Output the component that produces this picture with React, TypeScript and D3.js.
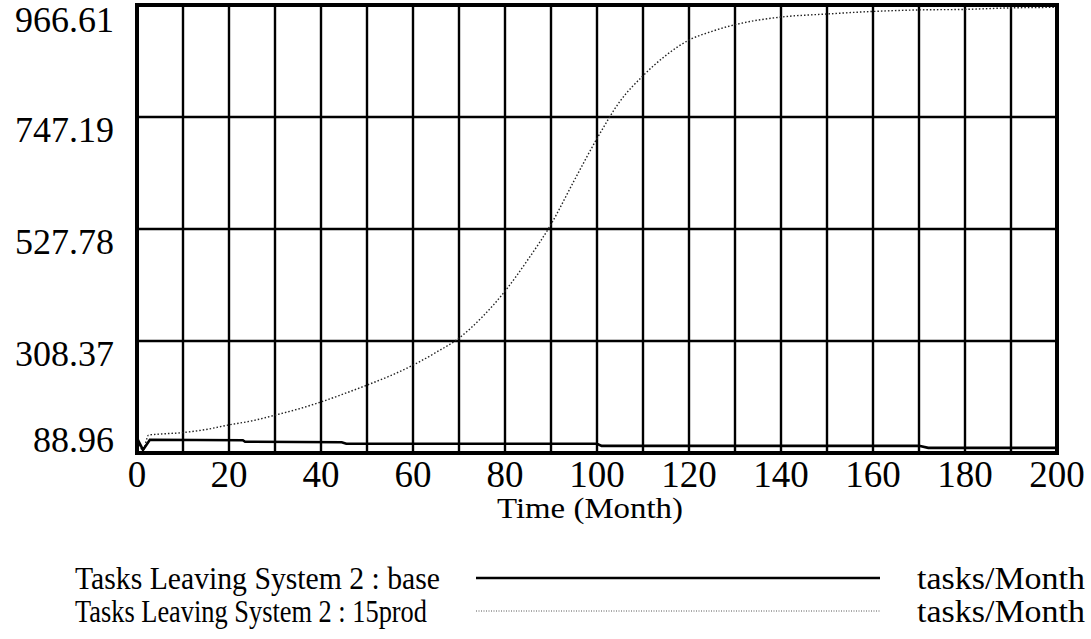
import React from "react";
import * as d3 from "d3";

// Time axis (months) and value axis ticks
const xTicks = [0, 20, 40, 60, 80, 100, 120, 140, 160, 180, 200];
const xGrid = d3.range(0, 201, 10);
const yTicks = [88.96, 308.37, 527.78, 747.19, 966.61];
const yTickLabels = ["88.96", "308.37", "527.78", "747.19", "966.61"];

// Tasks Leaving System 2 : base  [month, tasks/Month]
const baseSeries: [number, number][] = [
  [0, 118], [1.3, 95], [2.8, 115], [23, 114], [23.5, 111], [44.5, 110],
  [45.5, 107], [100, 107], [101, 103], [170, 103], [172, 99], [200, 99],
];

// Tasks Leaving System 2 : 15prod  [month, tasks/Month]
const prodSeries: [number, number][] = [
  [0, 118], [1.3, 95], [2.5, 124], [5, 126], [10, 129], [15, 135], [20, 144],
  [25, 152], [30, 163], [35, 175], [40, 189], [45, 205], [50, 222], [55, 240],
  [60, 261], [65, 286], [70, 314], [75, 355], [80, 406], [85, 468], [90, 537],
  [95, 622], [100, 705], [105, 778], [110, 828], [115, 868], [120, 898],
  [125, 915], [130, 928], [135, 937], [140, 943], [150, 949], [160, 954],
  [170, 957], [180, 958], [190, 961], [200, 962],
];

const legendItems = [
  { label: "Tasks Leaving System 2 : base", unit: "tasks/Month", dotted: false, width: 365 },
  { label: "Tasks Leaving System 2 : 15prod", unit: "tasks/Month", dotted: true, width: 352 },
];

const W = 1091;
const H = 639;
const plot = { left: 137, right: 1057, top: 5, bottom: 453 };
const font = "'Liberation Serif', 'Times New Roman', serif";

export default function App() {
  const x = d3.scaleLinear().domain([0, 200]).range([plot.left, plot.right]);
  const y = d3.scaleLinear().domain([88.96, 966.61]).range([plot.bottom, plot.top]);

  const baseLine = d3
    .line<[number, number]>()
    .x((d) => x(d[0]))
    .y((d) => y(d[1]))
    .curve(d3.curveLinear);
  const prodLine = d3
    .line<[number, number]>()
    .x((d) => x(d[0]))
    .y((d) => y(d[1]))
    .curve(d3.curveMonotoneX);

  // the lowest label sits above its gridline, the others below theirs
  const yLabelBaseline = (i: number) => {
    const gy = y(yTicks[i]);
    if (i === 0) return gy - 1;
    if (i === yTicks.length - 1) return gy + 27;
    return gy + 25;
  };

  return (
    <svg
      width={W}
      height={H}
      style={{ position: "absolute", left: 0, top: 0, background: "#fff" }}
      fontFamily={font}
    >
      <rect x={0} y={0} width={W} height={H} fill="#fff" />

      {/* grid */}
      {xGrid.map((t) => (
        <line key={"gx" + t} x1={x(t)} x2={x(t)} y1={plot.top} y2={plot.bottom} stroke="#000" strokeWidth={2.4} />
      ))}
      {yTicks.map((t) => (
        <line key={"gy" + t} x1={plot.left} x2={plot.right} y1={y(t)} y2={y(t)} stroke="#000" strokeWidth={2.4} />
      ))}

      {/* series */}
      <path d={prodLine(prodSeries) || ""} fill="none" stroke="#222" strokeWidth={1.4} strokeDasharray="1.5,2" />
      <path d={baseLine(baseSeries) || ""} fill="none" stroke="#000" strokeWidth={2.6} />

      {/* frame */}
      <rect
        x={plot.left}
        y={plot.top}
        width={plot.right - plot.left}
        height={plot.bottom - plot.top}
        fill="none"
        stroke="#000"
        strokeWidth={4}
      />

      {/* y labels */}
      {yTicks.map((t, i) => (
        <text key={"yl" + t} x={114} y={yLabelBaseline(i)} textAnchor="end" fontSize={36} fill="#000">
          {yTickLabels[i]}
        </text>
      ))}

      {/* x labels */}
      {xTicks.map((t) => (
        <text key={"xl" + t} x={x(t)} y={487} textAnchor="middle" fontSize={37} fill="#000">
          {t}
        </text>
      ))}
      <text
        x={497}
        y={518}
        fontSize={29}
        fill="#000"
        textLength={186}
        lengthAdjust="spacingAndGlyphs"
      >
        Time (Month)
      </text>

      {/* legend */}
      {legendItems.map((it, i) => {
        const cy = 578 + i * 33;
        return (
          <g key={it.label}>
            <text x={75} y={cy + 11} fontSize={31} fill="#000" textLength={it.width} lengthAdjust="spacingAndGlyphs">
              {it.label}
            </text>
            <line
              x1={476}
              x2={880}
              y1={cy}
              y2={cy}
              stroke={it.dotted ? "#555" : "#000"}
              strokeWidth={it.dotted ? 1 : 2.4}
              strokeDasharray={it.dotted ? "1,1.5" : undefined}
            />
            <text x={917} y={cy + 11} fontSize={31} fill="#000" textLength={168} lengthAdjust="spacingAndGlyphs">
              {it.unit}
            </text>
          </g>
        );
      })}
    </svg>
  );
}
